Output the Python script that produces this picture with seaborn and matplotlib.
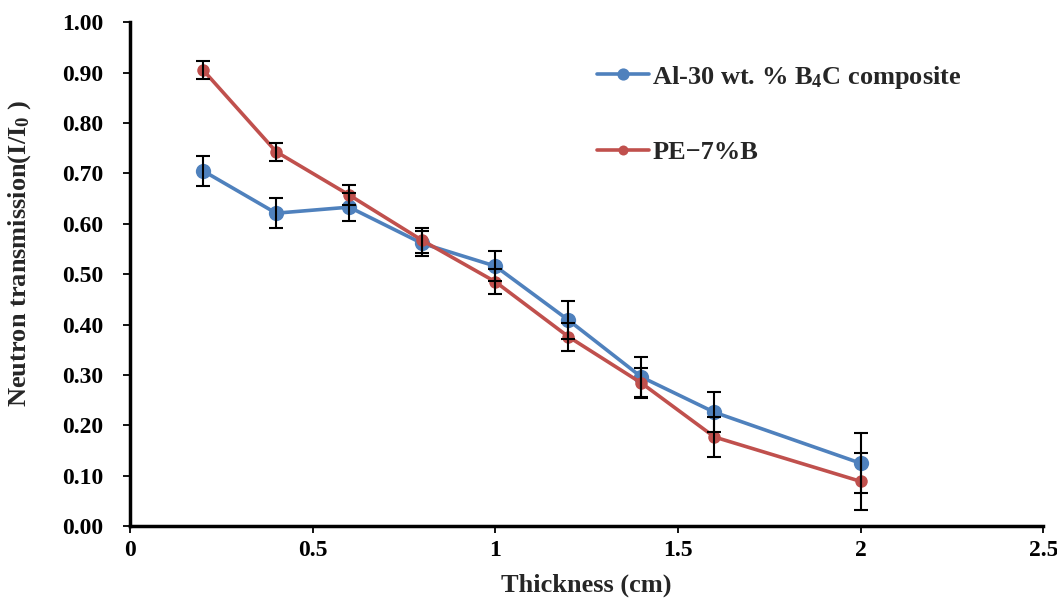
import matplotlib
matplotlib.use("Agg")
import matplotlib.pyplot as plt
import numpy as np
import pandas as pd
import seaborn as sns

# values
thickness = [0.2, 0.4, 0.6, 0.8, 1.0, 1.2, 1.4, 1.6, 2.0]
al_b4c = [0.705, 0.621, 0.633, 0.561, 0.516, 0.409, 0.296, 0.226, 0.125]
al_b4c_err = [0.030, 0.030, 0.028, 0.025, 0.030, 0.037, 0.040, 0.040, 0.060]
pe_b = [0.905, 0.743, 0.657, 0.567, 0.485, 0.376, 0.284, 0.177, 0.089]
pe_b_err = [0.018, 0.018, 0.020, 0.025, 0.025, 0.028, 0.030, 0.040, 0.057]

names = ["Al-30 wt. % B$_\\mathbf{4}$C composite", "PE\u22127%B"]
colors = ["#4F81BD", "#C0504D"]

sns.set_style("white")
plt.rcParams["font.family"] = ["Liberation Serif", "DejaVu Serif"]
plt.rcParams["font.weight"] = "bold"
plt.rcParams["mathtext.fontset"] = "custom"
plt.rcParams["mathtext.rm"] = "Liberation Serif:bold"
plt.rcParams["mathtext.bf"] = "Liberation Serif:bold"
plt.rcParams["mathtext.it"] = "Liberation Serif:bold"

df = pd.DataFrame({
    "Thickness": thickness * 2,
    "T": al_b4c + pe_b,
    "err": al_b4c_err + pe_b_err,
    "series": [names[0]] * len(thickness) + [names[1]] * len(thickness),
})

fig, ax = plt.subplots(figsize=(10.57, 5.98), dpi=100)
fig.subplots_adjust(left=0.123, right=0.987, bottom=0.12, top=0.963)

sizes = [11, 9]
for name, col, ms in zip(names, colors, sizes):
    sub = df[df["series"] == name]
    sns.lineplot(data=sub, x="Thickness", y="T", color=col, marker="o",
                 markersize=ms, markeredgewidth=0, linewidth=2.6, label=name, ax=ax)
for name in names:
    sub = df[df["series"] == name]
    ax.errorbar(sub["Thickness"], sub["T"], yerr=sub["err"], fmt="none",
                ecolor="black", elinewidth=1.5, capsize=5, capthick=1.5, zorder=5)

ax.set_xlim(0, 2.5)
ax.set_ylim(0, 1.0)
ax.set_xticks(np.arange(0, 2.51, 0.5))
ax.set_xticklabels(["0", "0.5", "1", "1.5", "2", "2.5"])
ax.set_yticks(np.arange(0, 1.01, 0.1))
ax.set_yticklabels([f"{v:.2f}" for v in np.arange(0, 1.01, 0.1)])
ax.tick_params(axis="both", direction="out", length=5, width=1.3, labelsize=17,
               bottom=True, left=True, colors="black")
ax.tick_params(axis="y", pad=14)
ax.tick_params(axis="x", pad=5)
for s in ["top", "right"]:
    ax.spines[s].set_visible(False)
for s in ["left", "bottom"]:
    ax.spines[s].set_linewidth(2.5)
    ax.spines[s].set_color("black")

ax.set_xlabel("Thickness (cm)", fontsize=19, fontweight="bold")
ax.set_ylabel("Neutron transmission(I/I$_0$ )", fontsize=19, fontweight="bold")
ax.xaxis.set_label_coords(0.5, -0.093)
ax.yaxis.set_label_coords(-0.106, 0.54)

leg = ax.legend(loc="upper left", bbox_to_anchor=(0.485, 0.965), frameon=False,
                fontsize=19, labelspacing=1.9, handlelength=2.0, handletextpad=0.1,
                markerscale=0.8)

fig.savefig("out.png", dpi=100)
